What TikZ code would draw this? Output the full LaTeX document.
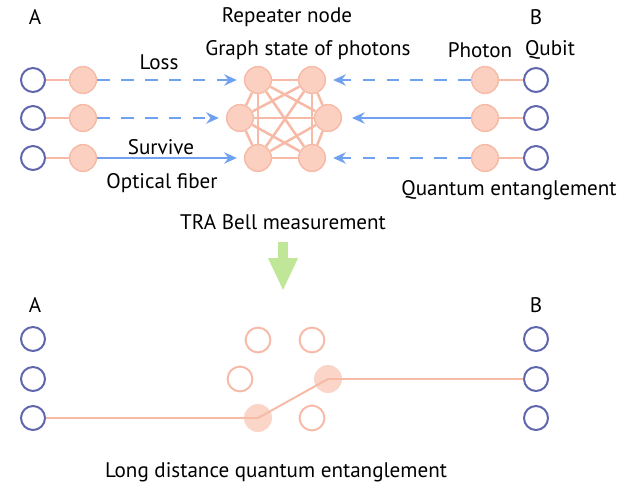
\documentclass[tikz,border=0pt]{standalone}
\usepackage{fontspec}
\setmainfont{PT Sans}
\usetikzlibrary{arrows.meta}

\definecolor{qubitblue}{RGB}{95,102,172}
\definecolor{photonfill}{RGB}{251,208,193}
\definecolor{photonline}{RGB}{246,186,166}
\definecolor{fiberblue}{RGB}{112,160,240}
\definecolor{bellgreen}{RGB}{192,230,152}

\tikzset{
  qubit/.style={circle, draw=qubitblue, line width=1.4pt, minimum size=0.6cm, inner sep=0pt},
  photon/.style={circle, fill=photonfill, draw=photonline, line width=1pt, minimum size=0.67cm, inner sep=0pt},
  ghost/.style={circle, draw=photonline, line width=1.4pt, minimum size=0.62cm, inner sep=0pt},
  kept/.style={circle, fill=photonfill!90, minimum size=0.7cm, inner sep=0pt},
  bond/.style={draw=photonline, line width=1.4pt},
  graphedge/.style={draw=photonline, line width=1.8pt},
  fiber/.style={draw=fiberblue, line width=1.4pt, -{Stealth[length=9pt,width=8pt,inset=3pt]}, shorten >=5pt},
  lost/.style={fiber, dash pattern=on 9pt off 8pt},
  label/.style={font=\fontsize{15}{17}\selectfont, inner sep=0pt}
}

\begin{document}
\begin{tikzpicture}[x=0.025cm, y=-0.025cm]
\useasboundingbox (0,0) rectangle (640,494);

\node[label] at (35,17) {A};
\node[label] at (536,17) {B};
\node[label] at (287,17) {Repeater node};
\node[label] at (308,50) {Graph state of photons};
\node[label] at (480,50) {Photon};
\node[label] at (550,50) {Qubit};
\node[label] at (159,62) {Loss};
\node[label] at (161,147) {Survive};
\node[label] at (162,183) {Optical fiber};
\node[label] at (509,190) {Quantum entanglement};
\node[label] (tra) at (283,222) {TRA Bell measurement};

\foreach \r/\y in {1/80,2/118,3/158} {
  \node[qubit] (qa\r) at (33,\y) {};
  \node[photon] (pa\r) at (83,\y) {};
  \node[photon] (pb\r) at (485,\y) {};
  \node[qubit] (qb\r) at (536,\y) {};
  \draw[bond] (qa\r) -- (pa\r);
  \draw[bond] (pb\r) -- (qb\r);
}

\node[photon] (g1) at (258,80) {};
\node[photon] (g2) at (312,80) {};
\node[photon] (g3) at (328,118) {};
\node[photon] (g4) at (312,158) {};
\node[photon] (g5) at (258,158) {};
\node[photon] (g6) at (240,118) {};
\foreach \i in {1,...,5} {
  \pgfmathtruncatemacro\k{\i+1}
  \foreach \j in {\k,...,6}
    \draw[graphedge] (g\i) -- (g\j);
}

\draw[lost] (pa1) -- (g1);
\draw[lost] (pa2) -- (g6);
\draw[fiber] (pa3) -- (g5);
\draw[lost] (pb1) -- (g2);
\draw[fiber, shorten >=7pt] (pb2) -- (g3);
\draw[lost] (pb3) -- (g4);

\coordinate (bs) at (283,242);
\coordinate (be) at (283,291);
\draw[bellgreen, line width=0.25cm, -{Triangle[width=0.68cm,length=0.82cm]}] (bs) -- (be);

\node[label] at (35,305) {A};
\node[label] at (536,305) {B};
\foreach \r/\y in {1/339,2/379,3/418} {
  \node[qubit] (qc\r) at (33,\y) {};
  \node[qubit] (qd\r) at (536,\y) {};
}

\node[ghost] (h1) at (258,340) {};
\node[ghost] (h2) at (312,340) {};
\node[kept] (h3) at (328,379) {};
\node[ghost] (h4) at (312,418) {};
\node[kept] (h5) at (258,418) {};
\node[ghost] (h6) at (240,379) {};
\draw[bond] (qc3) -- (h5.center) -- (h3.center) -- (qd2);

\node[label] at (276,472) {Long distance quantum entanglement};
\end{tikzpicture}
\end{document}
